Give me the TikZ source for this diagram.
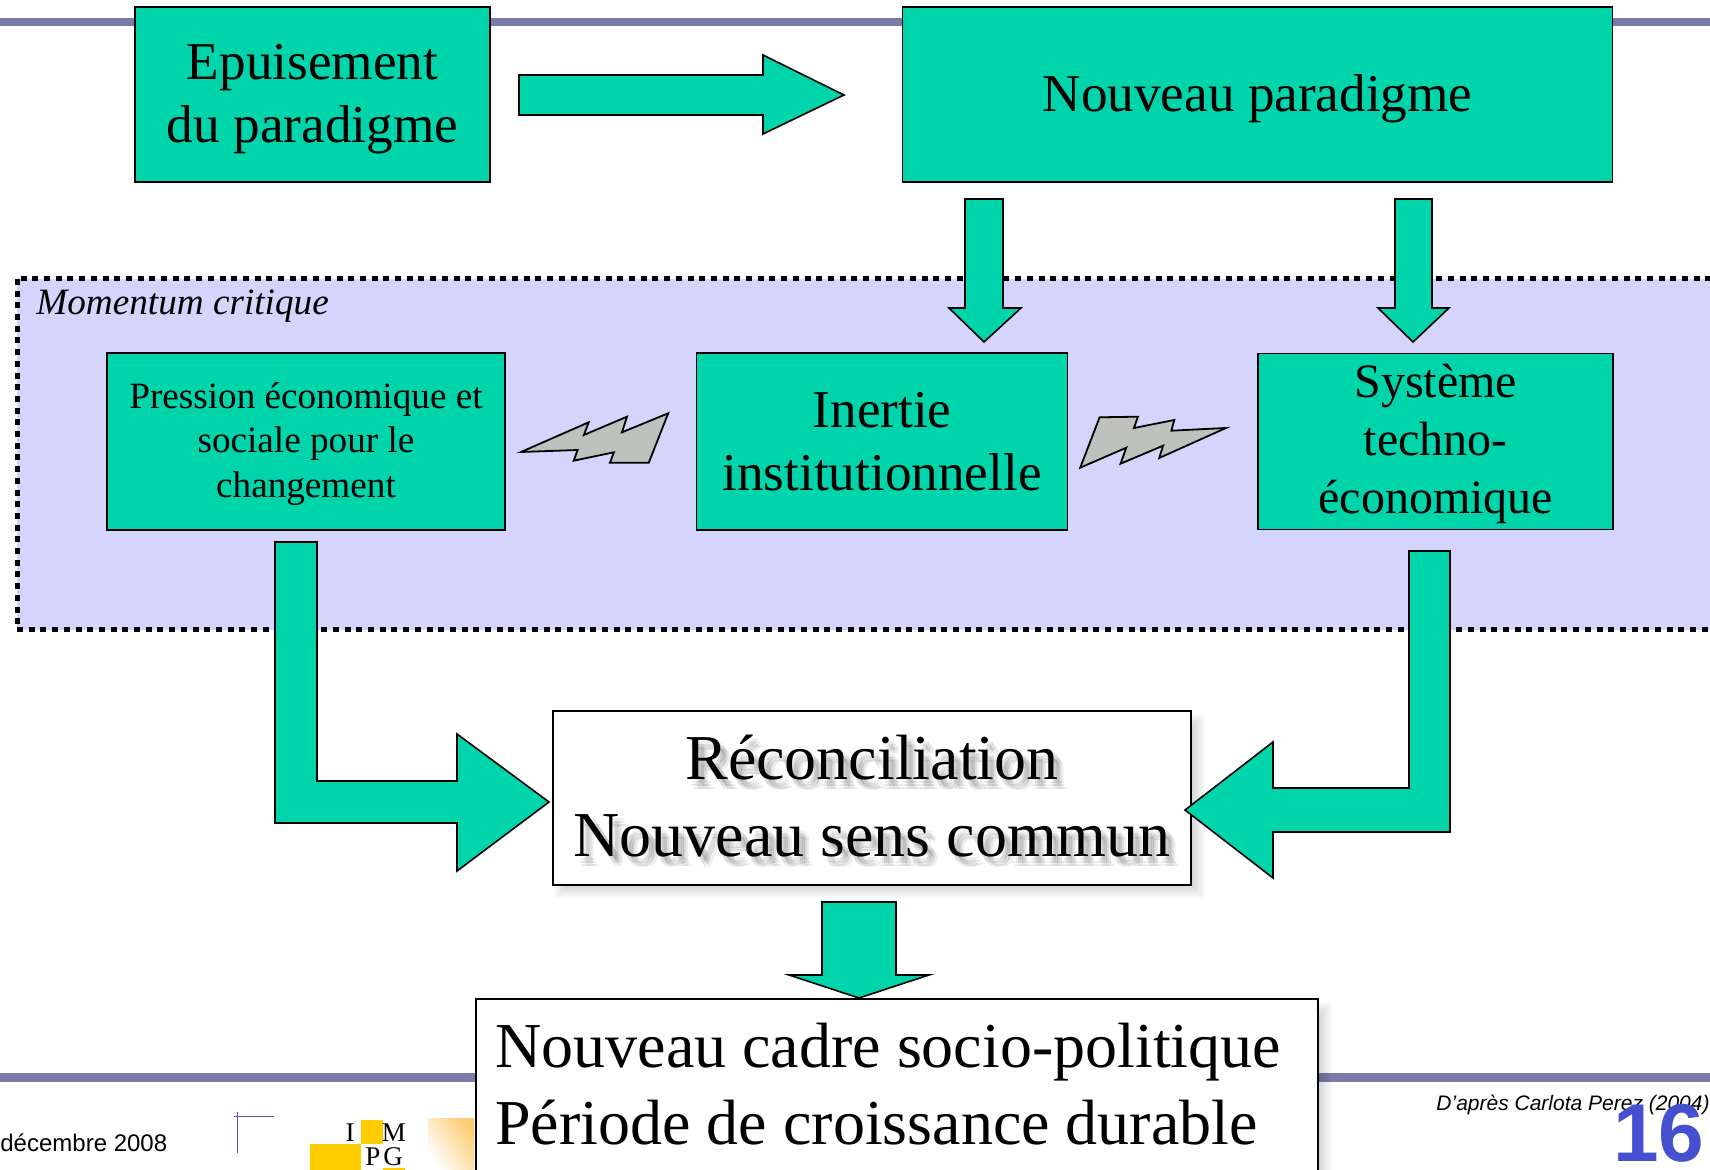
\documentclass[tikz,border=0pt]{standalone}
\usepackage{fontspec}
\setmainfont{Liberation Serif}
\setsansfont{Liberation Sans}
\usetikzlibrary{positioning, calc}
\definecolor{boxgreen}{RGB}{0,212,170}
\definecolor{panelblue}{RGB}{212,212,252}
\definecolor{rulegrey}{RGB}{123,123,170}
\definecolor{pageblue}{RGB}{68,80,208}
\definecolor{boltgrey}{RGB}{191,193,189}
\definecolor{logoyellow}{RGB}{255,204,0}
\definecolor{logoorange}{RGB}{253,205,115}
\newcommand{\fs}[2]{\fontsize{#1}{#2}\selectfont}
\newcommand{\lift}[1]{\rule{0pt}{#1pt}}
\tikzset{%
	box/.style={draw, rectangle, line width=0.8pt, inner sep=0pt, align=center, fill=boxgreen},
	whitebox/.style={box, fill=white},
	blockarrow/.style={draw=black, line width=0.8pt, fill=boxgreen, line join=miter},
	bolt/.style={draw=black, line width=0.9pt, fill=boltgrey, line join=miter},
	rulebar/.style={fill=rulegrey, draw=none},
	panel/.style={fill=panelblue, draw=black, line width=2.5pt, dash pattern=on 3pt off 2.85pt},
	softshadow/.style={fill=black, fill opacity=0.022, draw=none},
	textshadow/.style={text=black, text opacity=0.07, inner sep=0pt, align=center},
	plain/.style={inner sep=0pt, align=center},
	logoletter/.style={inner sep=0pt, anchor=base, font=\fs{13.5}{15}}
}

\begin{document}
\begin{tikzpicture}[x=0.5pt, y=-0.5pt]
	\useasboundingbox (0,0) rectangle (1710,1170);
	\fill[white] (0,0) rectangle (1710,1170);

	% rules
	\fill[rulebar] (0,18) rectangle (1710,26);
	\fill[rulebar] (0,1073) rectangle (1710,1082);

	% panel
	\draw[panel] (17,279) rectangle (1730,630);
	\node[plain, anchor=base west, font=\fs{18.6}{22}\itshape] (momentum) at (36,315) {Momentum critique};

	% top row
	\node[box, minimum width=177.5pt, minimum height=87.5pt, font=\fs{26.6}{31.6}] (epuisement) at (312.5,94.5) {\lift{22.6}Epuisement\\du paradigme};
	\node[box, minimum width=355pt, minimum height=87.5pt, font=\fs{26.6}{31.6}, right=205.5pt of epuisement] (paradigme) {\lift{22.6}Nouveau paradigme};

	% middle row
	\node[box, minimum width=199pt, minimum height=88.5pt, font=\fs{18.6}{22.4}] (pression) at (306,441.5) {\lift{15.5}Pression économique et\\sociale pour le\\changement};
	\node[box, minimum width=185.5pt, minimum height=88.5pt, font=\fs{26.6}{31.6}, right=95pt of pression] (inertie) {Inertie\\institutionnelle};
	\node[box, minimum width=177.5pt, minimum height=88pt, font=\fs{24}{29}, right=94.5pt of inertie] (systeme) {\lift{19}Système\\techno-\\économique};

	% soft shadows
	\foreach \r in {2,4,...,16} {
		\fill[softshadow] (570-\r,730-\r) rectangle (1189+\r,882+\r);
		\fill[softshadow] (493-\r,1018-\r) rectangle (1316+\r,1190);
	}

	% bottom boxes
	\node[whitebox, minimum width=319pt, minimum height=87pt] (reconciliation) at (872,798) {};
	\node[whitebox, anchor=north west, minimum width=421pt, minimum height=100pt] (cadre) at (475,998) {};

	% arrows
	\draw[blockarrow] (519,75) -- (763,75) -- (763,55) -- (844,95) -- (763,134) -- (763,115) -- (519,115) -- cycle;
	\draw[blockarrow] (965,199) -- (1003,199) -- (1003,308) -- (1021,308) -- (984,342) -- (949,308) -- (965,308) -- cycle;
	\draw[blockarrow] (1395,199) -- (1432,199) -- (1432,308) -- (1449,308) -- (1413,342) -- (1378,308) -- (1395,308) -- cycle;
	\draw[blockarrow] (275,542) -- (317,542) -- (317,781) -- (457,781) -- (457,734) -- (549,802) -- (457,871) -- (457,823) -- (275,823) -- cycle;
	\draw[blockarrow] (1409,551) -- (1450,551) -- (1450,832) -- (1273,832) -- (1273,878) -- (1185,810) -- (1273,742) -- (1273,788) -- (1409,788) -- cycle;
	\draw[blockarrow] (822,902) -- (896,902) -- (896,975) -- (929,975) -- (859,998) -- (789,975) -- (822,975) -- cycle;

	% bolts
	\draw[bolt] (521,452) -- (588.7,422.3) -- (583.9,435) -- (627,416.7) -- (622,432.3) -- (668.2,413.3) -- (648.8,462.7) -- (610,462.7) -- (613.9,452.3) -- (573.7,460.7) -- (577.6,450) -- cycle;
	\draw[bolt] (1080.2,467.7) -- (1099.6,417.3) -- (1137.9,416.7) -- (1134,428) -- (1174.3,420) -- (1171.4,430.7) -- (1226,428) -- (1159.2,458) -- (1163.1,445.7) -- (1120.5,463.7) -- (1126.3,447.7) -- cycle;

	% text of the white boxes
	\foreach \dx/\dy [count=\i] in {4/7, 8/7, 6/4, 6/10, 10/10} {
		\node[textshadow, font=\fs{32}{38.7}] (recshadow\i) at (872+\dx,796+\dy) {Réconciliation\\Nouveau sens commun};
	}
	\node[plain, font=\fs{32}{38.7}] (recontext) at (872,796) {Réconciliation\\Nouveau sens commun};
	\node[plain, anchor=base west, font=\fs{32}{38}] (cadretop) at (495,1067) {Nouveau cadre socio-politique};
	\node[plain, anchor=base west, font=\fs{32}{38}] (cadrebot) at (495,1144) {Période de croissance durable};

	% footer
	\node[plain, anchor=base west, font=\sffamily\fs{12}{14}] (date) at (0,1151) {décembre 2008};
	\coordinate (crossv1) at (237.5,1112);
	\coordinate (crossv2) at (237.5,1153);
	\coordinate (crossh1) at (234,1116.7);
	\coordinate (crossh2) at (274,1116.7);
	\draw[rulegrey!70!blue, line width=0.6pt] (crossv1) -- (crossv2);
	\draw[rulegrey!70!blue, line width=0.6pt] (crossh1) -- (crossh2);

	% logo
	\fill[logoyellow] (361,1120) rectangle (383,1144);
	\fill[logoyellow] (310,1144) rectangle (361,1170);
	\fill[logoyellow] (383,1168) rectangle (405,1170);
	\node[logoletter] (logoi) at (350,1141.5) {I};
	\node[logoletter] (logom) at (394,1141.5) {M};
	\node[logoletter] (logop) at (373,1165) {P};
	\node[logoletter] (logog) at (393,1165) {G};
	\shade[left color=white, middle color=white, right color=logoorange, shading angle=125] (428,1118) rectangle (474,1170);

	\node[plain, anchor=base east, font=\sffamily\itshape\fs{10.5}{13}] (source) at (1710,1110) {D’après Carlota Perez (2004)};
	\node[plain, anchor=base east, text=pageblue, font=\sffamily\bfseries\fs{41}{46}] (pagenum) at (1705,1161) {16};
\end{tikzpicture}
\end{document}
